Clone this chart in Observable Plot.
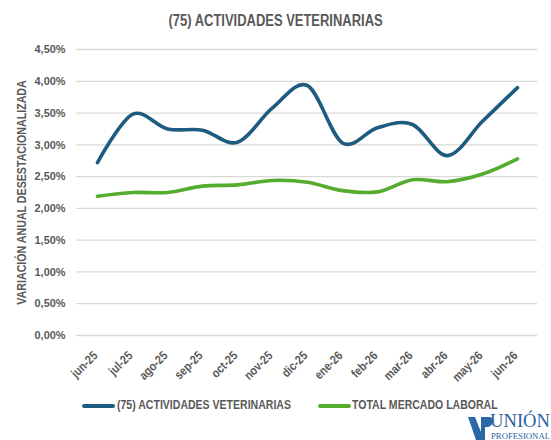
<!DOCTYPE html>
<html>
<head>
<meta charset="utf-8">
<script src="https://cdn.jsdelivr.net/npm/d3@7"></script>
<script src="https://cdn.jsdelivr.net/npm/@observablehq/plot@0.6"></script>
<style>
  html, body { margin: 0; padding: 0; background: #fff; }
  #wrap { position: relative; width: 551px; height: 440px; overflow: hidden;
    font-family: "Liberation Sans", Arial, sans-serif;
    font-weight: bold; color: #595959; }
  #chart { position: absolute; left: 0; top: 0; }
  #title { position: absolute; left: 0; width: 551px; top: 11px; text-align: center;
    font-size: 16px; line-height: 20px; transform: scaleX(0.81); transform-origin: 276px 0; }
  .leg { position: absolute; top: 397px; font-size: 13px; line-height: 16px; white-space: nowrap;
    transform: scaleX(0.81); transform-origin: 0 0; }
  .sw { position: absolute; top: 404px; height: 4px; border-radius: 2px; }
  #logo { position: absolute; left: 466px; top: 409px; }
</style>
</head>
<body>
<div id="wrap">
  <div id="chart"></div>
  <div id="title"></div>
  <div class="sw" id="sw1"></div><div class="leg" id="leg1"></div>
  <div class="sw" id="sw2"></div><div class="leg" id="leg2"></div>
  <div id="logo"></div>
</div>
<script>
const title = "(75) ACTIVIDADES VETERINARIAS";
const yLabel = "VARIACIÓN ANUAL DESESTACIONALIZADA";
const months = ["jun-25","jul-25","ago-25","sep-25","oct-25","nov-25","dic-25","ene-26","feb-26","mar-26","abr-26","may-26","jun-26"];
const seriesNames = ["(75) ACTIVIDADES VETERINARIAS", "TOTAL MERCADO LABORAL"];
const veterinarias = [2.72, 3.48, 3.25, 3.23, 3.04, 3.58, 3.93, 3.03, 3.27, 3.32, 2.83, 3.37, 3.90];
const totalMercado = [2.19, 2.25, 2.25, 2.35, 2.37, 2.44, 2.41, 2.28, 2.26, 2.45, 2.42, 2.54, 2.78];
const yTicks = [0, 0.5, 1, 1.5, 2, 2.5, 3, 3.5, 4, 4.5];
const colors = ["#1d5b80", "#55ad2f"];

const rows = [];
months.forEach((m, i) => {
  rows.push({month: m, value: veterinarias[i], series: seriesNames[0]});
  rows.push({month: m, value: totalMercado[i], series: seriesNames[1]});
});

const fmt = d => d.toFixed(2).replace(".", ",") + "%";
const fontFam = '"Liberation Sans", Arial, sans-serif';

const chart = Plot.plot({
  width: 551,
  height: 440,
  marginLeft: 76,
  marginRight: 14,
  marginTop: 49,
  marginBottom: 105,
  style: {fontFamily: fontFam, fontWeight: "bold", color: "#595959", background: "transparent"},
  x: {type: "point", domain: months, padding: 0.5, axis: null},
  y: {domain: [0, 4.5], ticks: yTicks, tickFormat: fmt},
  color: {domain: seriesNames, range: colors},
  marks: [
    Plot.gridY(yTicks, {stroke: "#d9d9d9", strokeOpacity: 1, strokeWidth: 1.3}),
    Plot.axisY(yTicks, {tickSize: 0, tickPadding: 11, tickFormat: fmt, fontSize: 11.5, fill: "#595959",
      label: yLabel, labelAnchor: "center", labelArrow: "none", labelOffset: 60}),
    Plot.line(rows, {x: "month", y: "value", z: "series", stroke: "series", strokeWidth: 3.6, curve: "cardinal"}),
    Plot.text(months, {x: d => d, y: d => 0, text: d => d, rotate: -45, textAnchor: "end", lineAnchor: "middle",
      dx: -2, dy: 18, fontSize: 12.5, fill: "#595959", className: "xlab"})
  ]
});
// y label font size and condensed look
chart.querySelectorAll("g[aria-label='y-axis label'] text").forEach(e => {
  e.setAttribute("font-size", 13);
  e.setAttribute("transform", (e.getAttribute("transform") || "") + " scale(0.82,1)");
});
chart.querySelectorAll("g[aria-label='y-axis label']").forEach(e => e.setAttribute("font-size", 13));
chart.querySelectorAll("g.xlab text, .xlab text").forEach(e => {
  e.setAttribute("transform", (e.getAttribute("transform") || "") + " scale(0.85,1)");
});
chart.querySelectorAll("g[aria-label='y-axis tick label'] text").forEach(e => {
  e.setAttribute("transform", (e.getAttribute("transform") || "") + " scale(0.95,1)");
});
document.getElementById("chart").appendChild(chart);

document.getElementById("title").textContent = title;
const sw1 = document.getElementById("sw1"), sw2 = document.getElementById("sw2");
sw1.style.left = "82px"; sw1.style.width = "33px"; sw1.style.background = colors[0];
sw2.style.left = "318px"; sw2.style.width = "33px"; sw2.style.background = colors[1];
const l1 = document.getElementById("leg1"), l2 = document.getElementById("leg2");
l1.style.left = "117px"; l1.textContent = seriesNames[0];
l2.style.left = "352px"; l2.textContent = seriesNames[1];

document.getElementById("logo").innerHTML =
  '<svg width="85" height="31" xmlns="http://www.w3.org/2000/svg">' +
  '<path d="M2 8 L9 8 L15 23 L15 8 L24 8 C28 8 28 17 22 18 L19 18 L19 31 L10 31 Z" fill="#2a68a8"/>' +
  '<text x="24" y="18" font-family="Liberation Serif, serif" font-size="18" fill="#2a5f9e" font-weight="normal" textLength="60" lengthAdjust="spacingAndGlyphs">UNIÓN</text>' +
  '<text x="25" y="30" font-family="Liberation Serif, serif" font-size="8.5" fill="#2a5f9e" font-weight="normal" textLength="59" lengthAdjust="spacingAndGlyphs">PROFESIONAL</text>' +
  '</svg>';
</script>
</body>
</html>
